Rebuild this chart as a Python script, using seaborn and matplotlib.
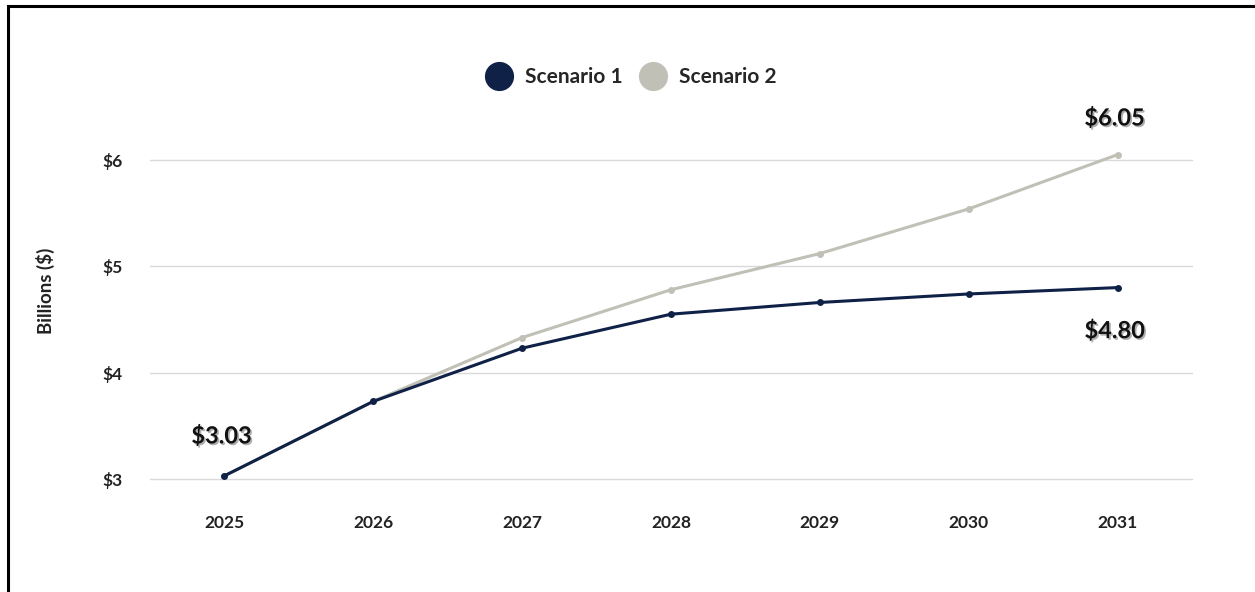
import matplotlib
matplotlib.use("Agg")
import matplotlib.pyplot as plt
import matplotlib.patheffects as pe
from matplotlib.lines import Line2D
from matplotlib.patches import Rectangle
import seaborn as sns
import pandas as pd

years = [2025, 2026, 2027, 2028, 2029, 2030, 2031]
scenario_1 = [3.03, 3.73, 4.23, 4.55, 4.66, 4.74, 4.80]
scenario_2 = [3.03, 3.73, 4.33, 4.78, 5.12, 5.54, 6.05]
series_names = ["Scenario 1", "Scenario 2"]
y_ticks = [3, 4, 5, 6]
y_tick_labels = ["$3", "$4", "$5", "$6"]
annotations = [(2025, 3.03, "$3.03"), (2031, 6.05, "$6.05"), (2031, 4.80, "$4.80")]

colors = {"Scenario 1": "#0f2147", "Scenario 2": "#c0c0b6"}

df = pd.DataFrame({
    "Year": years * 2,
    "Value": scenario_1 + scenario_2,
    "Series": [series_names[0]] * len(years) + [series_names[1]] * len(years),
})

sns.set_theme(style="white")
plt.rcParams["font.family"] = ["Lato", "DejaVu Sans"]

fig = plt.figure(figsize=(12.55, 5.92), dpi=100)
ax = fig.add_axes([150 / 1255, 1 - 479 / 592, (1192 - 150) / 1255, (479 - 106.8) / 592])

for y in y_ticks:
    ax.axhline(y, color="#d9d9d9", lw=1.0, zorder=0, clip_on=False)

df_plot = pd.concat([df[df.Series == "Scenario 2"], df[df.Series == "Scenario 1"]])
sns.lineplot(data=df_plot, x="Year", y="Value", hue="Series", palette=colors,
             hue_order=["Scenario 2", "Scenario 1"], sort=False,
             marker="o", markersize=5, markeredgewidth=0, linewidth=2.2,
             legend=False, ax=ax, zorder=3)

ax.set_xlim(2024.5, 2031.5)
ax.set_ylim(3, 6.5)
ax.set_xticks(years)
ax.set_xticklabels([str(y) for y in years], fontsize=12.5, fontweight="bold", color="#222222")
ax.set_yticks(y_ticks)
ax.set_yticklabels(y_tick_labels, fontsize=12.5, fontweight="bold", color="#222222")
ax.tick_params(axis="x", length=0, pad=26)
ax.tick_params(axis="y", length=0, pad=20)
ax.set_xlabel("")
ax.set_ylabel("Billions ($)", fontsize=13.5, fontweight="bold", color="#222222")
ax.yaxis.set_label_coords((55 - 150) / 1042, 0.505)
for s in ax.spines.values():
    s.set_visible(False)

shadow = [pe.SimplePatchShadow(offset=(1.2, -1.2), shadow_rgbFace="#777777", alpha=0.6), pe.Normal()]
offsets = {"$3.03": 0.38, "$6.05": 0.35, "$4.80": -0.40}
for x, y, txt in annotations:
    ax.text(x - 0.02, y + offsets[txt], txt, ha="center", va="center", fontsize=17,
            fontweight="bold", color="#111111", path_effects=shadow, zorder=5)

handles = [Line2D([], [], marker="o", linestyle="", markersize=21, markeredgewidth=0,
                  color=colors[n]) for n in series_names]
fig.legend(handles, series_names, loc="center", bbox_to_anchor=(631 / 1255, 1 - 77 / 592),
           ncol=2, frameon=False, prop={"weight": "bold", "size": 15},
           handletextpad=0.6, columnspacing=0.8, handlelength=1.3)

fig.patches.append(Rectangle((8 / 1255, -0.2), 1.5, 1.2 - 6 / 592, transform=fig.transFigure,
                             fill=False, edgecolor="black", linewidth=2.2, zorder=10))

fig.savefig("out.png", dpi=100)
